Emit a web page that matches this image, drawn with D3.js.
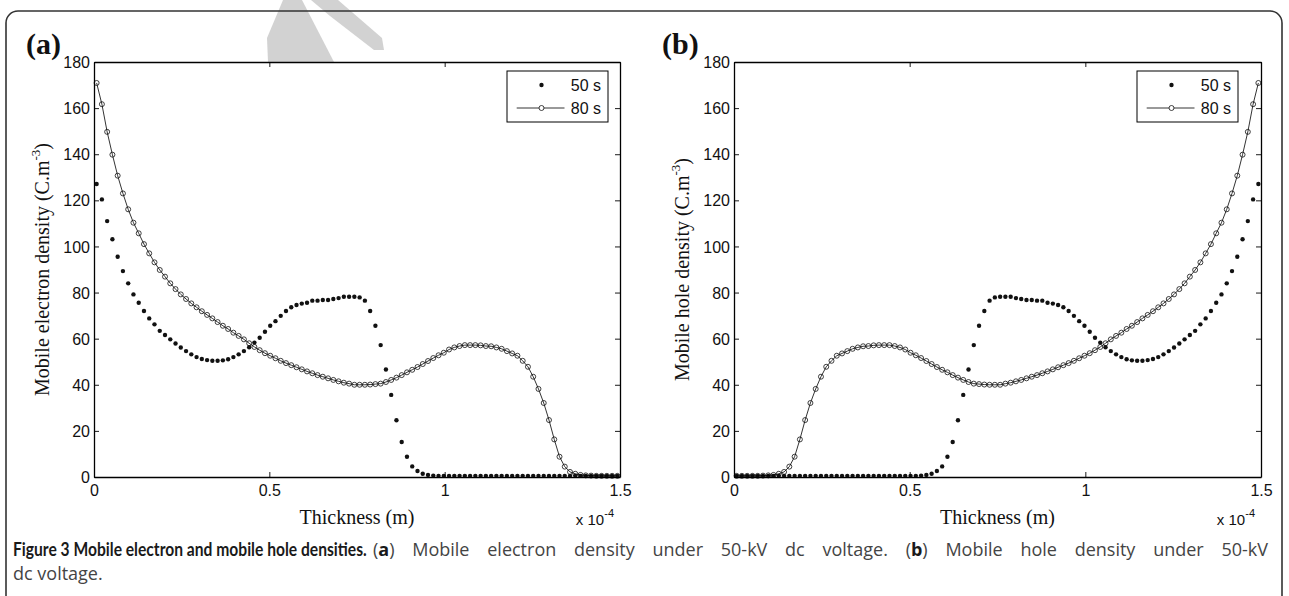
<!DOCTYPE html>
<html>
<head>
<meta charset="utf-8">
<script src="https://cdn.jsdelivr.net/npm/d3@7"></script>
<style>
    body { margin: 0; background: #fff; }
    svg { display: block; }
</style>
</head>
<body>
<svg id="fig" width="1289" height="596"></svg>
<script>
(function() {
    'use strict';

    // thickness mesh: 100 cells across the 1.5e-4 m sample, values at cell centres
    var nCells = 100;
    var thickness = d3.range(nCells).map(function(i) { return (i + 0.5) * 1.5e-4 / nCells; });

    // mobile electron density (C.m^-3), panel (a)
    var electron50 = [
        127.1,120.4,111.0,103.1,95.5,89.3,84.0,79.2,75.6,72.0,
        68.8,66.2,63.4,61.6,59.7,57.9,56.2,54.6,53.2,52.0,
        51.2,50.7,50.4,50.4,50.6,51.1,52.0,53.2,54.6,56.3,
        58.3,60.4,63.0,65.6,67.6,69.9,72.0,73.6,74.6,75.2,
        75.6,76.5,76.5,76.8,76.8,77.2,77.6,78.2,78.2,78.2,
        77.9,76.5,72.0,65.6,57.2,46.6,35.6,24.6,15.2,8.8,
        4.6,2.6,1.4,0.9,0.6,0.5,0.5,0.5,0.5,0.5,
        0.5,0.5,0.5,0.5,0.5,0.5,0.5,0.5,0.5,0.5,
        0.5,0.5,0.5,0.5,0.5,0.5,0.5,0.5,0.5,0.5,
        0.5,0.5,0.5,0.5,0.5,0.5,0.5,0.5,0.5,0.5
    ];
    var electron80 = [
        170.9,161.7,149.7,139.8,130.7,123.0,116.1,110.3,105.7,101.0,
        97.0,93.1,89.8,86.9,84.0,81.5,79.2,77.2,75.3,73.6,
        71.9,70.3,68.8,67.2,65.6,64.2,62.6,61.2,59.7,58.0,
        56.4,55.0,53.7,52.6,51.5,50.4,49.4,48.5,47.6,46.7,
        45.8,45.0,44.2,43.5,42.8,42.1,41.5,40.9,40.5,40.0,
        40.0,40.0,40.1,40.3,40.5,41.2,42.1,43.1,44.2,45.4,
        46.5,47.7,49.0,50.3,51.6,52.8,53.9,55.3,56.2,56.8,
        57.2,57.2,57.2,57.1,56.8,56.7,56.2,55.6,54.6,53.6,
        52.6,50.4,47.8,43.5,38.2,32.1,24.7,16.3,8.8,4.5,
        2.2,1.4,0.9,0.7,0.6,0.5,0.5,0.5,0.5,0.5
    ];

    // mobile hole density (C.m^-3), panel (b)
    var hole50 = [
        0.5,0.5,0.5,0.5,0.5,0.5,0.5,0.5,0.5,0.5,
        0.5,0.5,0.5,0.5,0.5,0.5,0.5,0.5,0.5,0.5,
        0.5,0.5,0.5,0.5,0.5,0.5,0.5,0.5,0.5,0.5,
        0.5,0.5,0.5,0.5,0.5,0.6,0.9,1.4,2.6,4.6,
        8.8,15.2,24.6,35.6,46.6,57.2,65.6,72.0,76.5,77.9,
        78.2,78.2,78.2,77.6,77.2,76.8,76.8,76.5,76.5,75.6,
        75.2,74.6,73.6,72.0,69.9,67.6,65.6,63.0,60.4,58.3,
        56.3,54.6,53.2,52.0,51.1,50.6,50.4,50.4,50.7,51.2,
        52.0,53.2,54.6,56.2,57.9,59.7,61.6,63.4,66.2,68.8,
        72.0,75.6,79.2,84.0,89.3,95.5,103.1,111.0,120.4,127.1
    ];
    var hole80 = [
        0.5,0.5,0.5,0.5,0.5,0.6,0.7,0.9,1.4,2.2,
        4.5,8.8,16.3,24.7,32.1,38.2,43.5,47.8,50.4,52.6,
        53.6,54.6,55.6,56.2,56.7,56.8,57.1,57.2,57.2,57.2,
        56.8,56.2,55.3,53.9,52.8,51.6,50.3,49.0,47.7,46.5,
        45.4,44.2,43.1,42.1,41.2,40.5,40.3,40.1,40.0,40.0,
        40.0,40.5,40.9,41.5,42.1,42.8,43.5,44.2,45.0,45.8,
        46.7,47.6,48.5,49.4,50.4,51.5,52.6,53.7,55.0,56.4,
        58.0,59.7,61.2,62.6,64.2,65.6,67.2,68.8,70.3,71.9,
        73.6,75.3,77.2,79.2,81.5,84.0,86.9,89.8,93.1,97.0,
        101.0,105.7,110.3,116.1,123.0,130.7,139.8,149.7,161.7,170.9
    ];

    var xTicks = [0, 0.5e-4, 1e-4, 1.5e-4];
    var xTickLabels = ["0", "0.5", "1", "1.5"];
    var yTicks = [0, 20, 40, 60, 80, 100, 120, 140, 160, 180];
    var seriesNames = ["50 s", "80 s"];

    var plotTop = 62, plotBottom = 477;
    var sansFont = "'Liberation Sans', Arial, sans-serif";
    var serifFont = "'Liberation Serif', 'Times New Roman', serif";

    var svg = d3.select("#fig");

    // faint watermark strokes peeking above panel (a)
    svg.append("path")
        .attr("d", "M267,38 L283,0 L302,0 L334,62 L268,62 Z")
        .attr("fill", "#d2d2d2");
    svg.append("path")
        .attr("d", "M311,0 L338,0 L382,38 L384,50 L374,50 L330,16 Z")
        .attr("fill", "#d2d2d2");

    // outer frame of the figure
    svg.append("rect")
        .attr("x", 6).attr("y", 11)
        .attr("width", 1276).attr("height", 640)
        .attr("rx", 12)
        .attr("fill", "none")
        .attr("stroke", "#333")
        .attr("stroke-width", 1.6);

    function drawPanel(opt) {
        var g = svg.append("g");
        var x = d3.scaleLinear().domain([0, 1.5e-4]).range([opt.left, opt.right]);
        var y = d3.scaleLinear().domain([0, 180]).range([plotBottom, plotTop]);

        g.append("rect")
            .attr("x", opt.left).attr("y", plotTop)
            .attr("width", opt.right - opt.left).attr("height", plotBottom - plotTop)
            .attr("fill", "#fff");

        // 50 s : dots only
        g.selectAll("circle.s50").data(opt.s50)
            .enter().append("circle")
            .attr("class", "s50")
            .attr("cx", function(d, i) { return x(thickness[i]); })
            .attr("cy", function(d) { return y(d); })
            .attr("r", 2.2)
            .attr("fill", "#111");

        // 80 s : line with open circles
        var line = d3.line()
            .x(function(d, i) { return x(thickness[i]); })
            .y(function(d) { return y(d); });
        g.append("path").datum(opt.s80)
            .attr("d", line)
            .attr("fill", "none")
            .attr("stroke", "#000")
            .attr("stroke-width", 0.8);
        g.selectAll("circle.s80").data(opt.s80)
            .enter().append("circle")
            .attr("class", "s80")
            .attr("cx", function(d, i) { return x(thickness[i]); })
            .attr("cy", function(d) { return y(d); })
            .attr("r", 2.5)
            .attr("fill", "none")
            .attr("stroke", "#111")
            .attr("stroke-width", 0.8);

        // box axes, ticks pointing inwards
        var axB = d3.axisBottom(x).tickValues(xTicks)
            .tickFormat(function(d, i) { return xTickLabels[i]; })
            .tickSizeInner(-5).tickSizeOuter(0).tickPadding(8);
        var axT = d3.axisTop(x).tickValues(xTicks).tickFormat("")
            .tickSizeInner(-5).tickSizeOuter(0);
        var axL = d3.axisLeft(y).tickValues(yTicks)
            .tickSizeInner(-5).tickSizeOuter(0).tickPadding(4);
        var axR = d3.axisRight(y).tickValues(yTicks).tickFormat("")
            .tickSizeInner(-5).tickSizeOuter(0);

        var gB = g.append("g").attr("transform", "translate(0," + plotBottom + ")").call(axB);
        var gT = g.append("g").attr("transform", "translate(0," + plotTop + ")").call(axT);
        var gL = g.append("g").attr("transform", "translate(" + opt.left + ",0)").call(axL);
        var gR = g.append("g").attr("transform", "translate(" + opt.right + ",0)").call(axR);

        [gB, gT, gL, gR].forEach(function(a) {
            a.select(".domain").attr("stroke", "#000").attr("stroke-width", 1.3);
            a.selectAll(".tick line").attr("stroke", "#000").attr("stroke-width", 0.9);
            a.selectAll("text")
                .attr("font-family", sansFont)
                .attr("font-size", 16)
                .attr("fill", "#111");
        });
        gL.selectAll("text").attr("dy", "0.35em");

        // x 10^-4 multiplier
        var mult = g.append("text")
            .attr("x", opt.right - 6).attr("y", 525)
            .attr("text-anchor", "end")
            .attr("font-family", sansFont)
            .attr("font-size", 15)
            .attr("fill", "#111");
        mult.append("tspan").text("x 10");
        mult.append("tspan").attr("dy", -8).attr("font-size", 11).text("-4");

        // axis titles
        g.append("text")
            .attr("x", (opt.left + opt.right) / 2).attr("y", 524)
            .attr("text-anchor", "middle")
            .attr("font-family", serifFont)
            .attr("font-size", 20)
            .attr("fill", "#111")
            .text("Thickness (m)");

        var yl = g.append("text")
            .attr("transform", "translate(" + (opt.left - 45.5) + "," + ((plotTop + plotBottom) / 2) + ") rotate(-90)")
            .attr("text-anchor", "middle")
            .attr("font-family", serifFont)
            .attr("font-size", 20)
            .attr("fill", "#111");
        yl.append("tspan").text(opt.yTitle + " (C.m");
        yl.append("tspan").attr("dy", -9).attr("font-size", 13).text("-3");
        yl.append("tspan").attr("dy", 9).text(")");

        // panel letter
        g.append("text")
            .attr("x", opt.letterX).attr("y", 54)
            .attr("font-family", serifFont)
            .attr("font-weight", "bold")
            .attr("font-size", 30)
            .attr("fill", "#111")
            .text(opt.letter);

        // legend
        var lx = opt.legendX, ly = 71;
        var lg = g.append("g");
        lg.append("rect")
            .attr("x", lx).attr("y", ly).attr("width", 101).attr("height", 51)
            .attr("fill", "#fff").attr("stroke", "#000").attr("stroke-width", 1);
        lg.append("circle")
            .attr("cx", lx + 34.5).attr("cy", ly + 14)
            .attr("r", 2.2).attr("fill", "#111");
        lg.append("line")
            .attr("x1", lx + 9.7).attr("x2", lx + 57.5)
            .attr("y1", ly + 37).attr("y2", ly + 37)
            .attr("stroke", "#000").attr("stroke-width", 0.8);
        lg.append("circle")
            .attr("cx", lx + 34.5).attr("cy", ly + 37)
            .attr("r", 2.5).attr("fill", "#fff")
            .attr("stroke", "#111").attr("stroke-width", 0.8);
        lg.selectAll("text.leg").data(seriesNames)
            .enter().append("text")
            .attr("class", "leg")
            .attr("x", lx + 94).attr("y", function(d, i) { return ly + 19.5 + i * 23; })
            .attr("text-anchor", "end")
            .attr("font-family", sansFont)
            .attr("font-size", 16)
            .attr("fill", "#111")
            .text(function(d) { return d; });
    }

    drawPanel({
        left: 94, right: 620, s50: electron50, s80: electron80,
        yTitle: "Mobile electron density", letter: "(a)", letterX: 26, legendX: 507
    });
    drawPanel({
        left: 734, right: 1261, s50: hole50, s80: hole80,
        yTitle: "Mobile hole density", letter: "(b)", letterX: 662, legendX: 1137
    });

    // caption: condensed bold title, then a justified regular line
    var titleFont = "Lato, 'Noto Sans', sans-serif";
    var bodyFont = "'Open Sans', 'Noto Sans', sans-serif";
    var capSize = 18;
    var capTitle = svg.append("text")
        .attr("x", 0).attr("y", 0)
        .attr("font-family", titleFont)
        .attr("font-weight", "bold")
        .attr("font-size", capSize)
        .attr("fill", "#1a1a1a")
        .text("Figure 3 Mobile electron and mobile hole densities.");
    var titleScale = 354 / capTitle.node().getComputedTextLength();
    capTitle.attr("transform", "translate(13,556) scale(" + titleScale + ",1)");

    var capRest = svg.append("text")
        .attr("x", 373).attr("y", 556)
        .attr("font-family", bodyFont)
        .attr("font-size", capSize)
        .attr("fill", "#444");
    var parts = [
        ["(", false], ["a", true], [") Mobile electron density under 50-kV dc voltage. (", false],
        ["b", true], [") Mobile hole density under 50-kV", false]
    ];
    parts.forEach(function(p) {
        capRest.append("tspan")
            .attr("font-weight", p[1] ? "bold" : "normal")
            .attr("fill", p[1] ? "#1a1a1a" : "#444")
            .text(p[0]);
    });
    var restText = parts.map(function(p) { return p[0]; }).join("");
    var nSpaces = restText.split(" ").length - 1;
    var natural = capRest.node().getComputedTextLength();
    capRest.attr("word-spacing", Math.max(0, (1268 - 373 - natural) / nSpaces));

    svg.append("text")
        .attr("x", 13).attr("y", 580)
        .attr("font-family", bodyFont)
        .attr("font-size", capSize)
        .attr("fill", "#444")
        .text("dc voltage.");
})();
</script>
</body>
</html>
